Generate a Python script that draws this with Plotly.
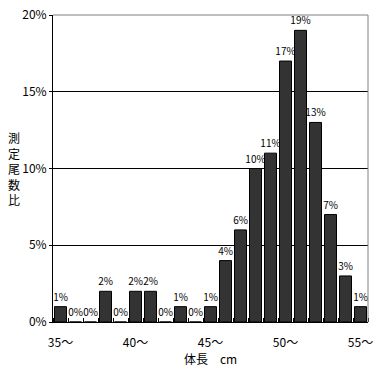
import plotly.graph_objects as go

lengths = list(range(35, 56))
ratios = [1, 0, 0, 2, 0, 2, 2, 0, 1, 0, 1, 4, 6, 10, 11, 17, 19, 13, 7, 3, 1]
tick_vals = [35, 40, 45, 50, 55]
tick_text = ["35～", "40～", "45～", "50～", "55～"]
y_ticks = [0, 5, 10, 15, 20]
y_tick_text = ["0%", "5%", "10%", "15%", "20%"]

FONT = "Noto Sans CJK JP"

fig = go.Figure()
fig.add_trace(go.Bar(
    x=lengths, y=ratios,
    marker=dict(color="#333333", line=dict(color="black", width=1)),
    text=[f"{v}%" for v in ratios], textposition="outside",
    constraintext="none",
    textfont=dict(size=10, color="black", family=FONT),
    cliponaxis=False, width=0.8,
))

fig.update_layout(
    width=382, height=367,
    margin=dict(l=53, r=14, t=15, b=45, autoexpand=False),
    paper_bgcolor="white", plot_bgcolor="white",
    showlegend=False,
    font=dict(family=FONT, size=12, color="black"),
    xaxis=dict(
        range=[34.5, 55.5], tickvals=tick_vals, ticktext=tick_text,
        showline=True, linecolor="black", linewidth=1,
        showgrid=False, zeroline=False, ticks="",
        ticklabelstandoff=10, automargin=False,
        tickfont=dict(size=12, family=FONT),
        minor=dict(tick0=34.5, dtick=1, ticks="inside", ticklen=4, tickcolor="black", showgrid=False),
        title=dict(text="体長　cm", font=dict(size=12, family=FONT), standoff=2),
    ),
    yaxis=dict(
        range=[0, 20], tickvals=y_ticks, ticktext=y_tick_text,
        showline=True, linecolor="black", linewidth=1,
        showgrid=True, gridcolor="black", gridwidth=1, zeroline=False,
        ticks="outside", ticklen=3, tickcolor="black", automargin=False,
        tickfont=dict(size=12, family=FONT),
    ),
    shapes=[
        dict(type="line", xref="paper", yref="paper", x0=0, x1=1, y0=1, y1=1,
             line=dict(color="#808080", width=1)),
        dict(type="line", xref="paper", yref="paper", x0=1, x1=1, y0=0, y1=1,
             line=dict(color="#808080", width=1)),
    ],
    annotations=[
        dict(text="測<br>定<br>尾<br>数<br>比", xref="paper", yref="paper",
             x=-0.125, y=0.5, xanchor="center", yanchor="middle",
             showarrow=False, font=dict(size=12, family=FONT)),
    ],
)

fig.write_html("out.html")
